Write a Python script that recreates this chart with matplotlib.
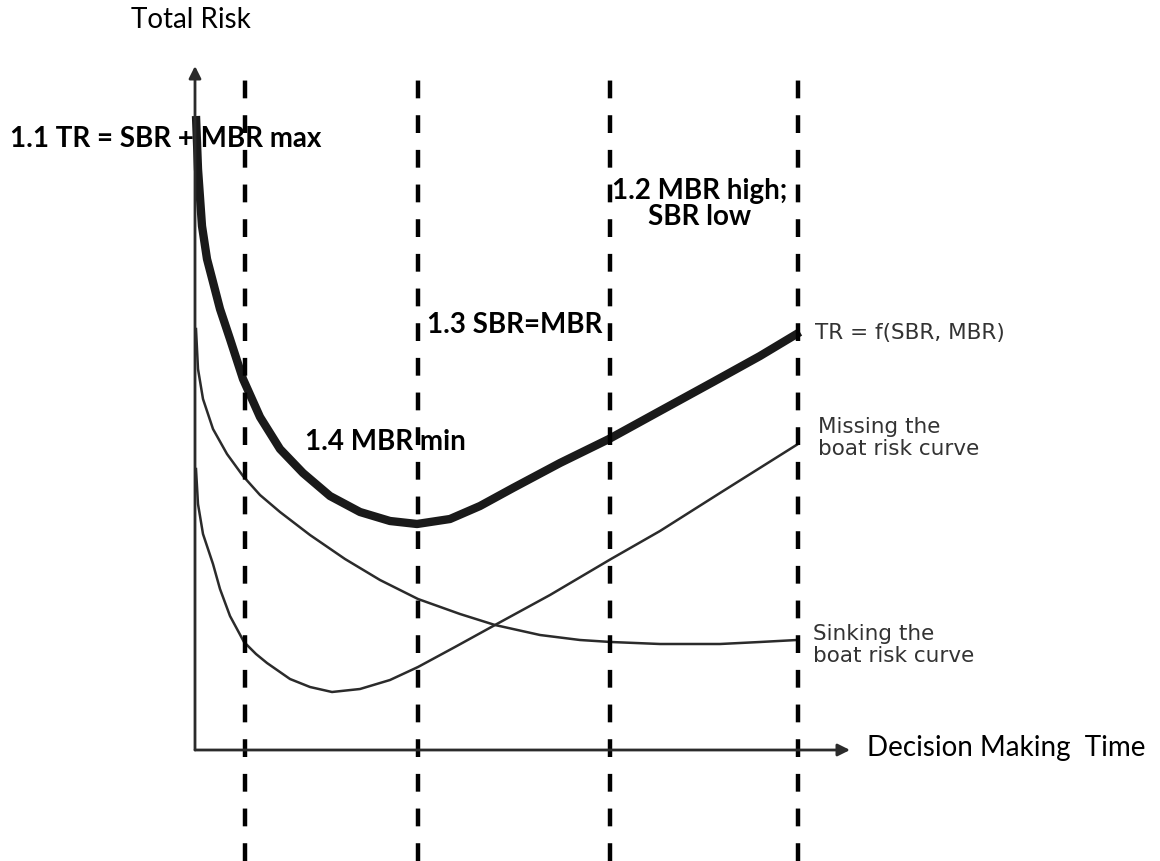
import numpy as np
import matplotlib.pyplot as plt

# data: t = decision making time, r = risk (arbitrary units)
tr_t = [1, 3, 7, 12, 18, 25, 35, 48, 65, 85, 108, 135, 165, 195, 222, 255, 285, 318, 365, 414, 465, 518, 565, 605]
tr_r = [634, 581, 524, 491, 468, 441, 411, 371, 333, 301, 277, 254, 238, 229, 226, 231, 244, 262, 287, 311, 339, 368, 394, 418]

sbr_t = [1, 3, 8, 18, 32, 48, 65, 85, 115, 150, 185, 223, 265, 300, 345, 385, 416, 465, 525, 565, 602]
sbr_r = [421, 381, 351, 321, 296, 274, 255, 238, 215, 191, 170, 151, 136, 125, 115, 110, 108, 106, 106, 108, 110]

mbr_t = [1, 3, 8, 18, 25, 35, 49, 61, 72, 95, 115, 137, 165, 195, 223, 260, 300, 355, 416, 465, 525, 603]
mbr_r = [281, 246, 216, 186, 161, 134, 108, 96, 87, 71, 63, 58, 61, 70, 83, 103, 125, 155, 191, 219, 257, 306]

phase_t = [50, 223, 415, 603]   # dashed phase boundaries

plt.rcParams['font.family'] = ['Lato', 'DejaVu Sans']

fig = plt.figure(figsize=(11.6, 8.62), dpi=100)
ax = fig.add_axes([0, 0, 1, 1])
ax.set_xlim(-195, 965)
ax.set_ylim(-111, 751)
ax.axis('off')

ink = '#2b2b2b'

# axes with arrows
ax.annotate('', xy=(0, 684), xytext=(0, 0),
            arrowprops=dict(arrowstyle='-|>', lw=2, color=ink, mutation_scale=18, shrinkA=0, shrinkB=0))
ax.annotate('', xy=(655, 0), xytext=(0, 0),
            arrowprops=dict(arrowstyle='-|>', lw=2, color=ink, mutation_scale=18, shrinkA=0, shrinkB=0))

# curves
ax.plot(tr_t, tr_r, color='#1a1a1a', lw=6, solid_capstyle='butt', solid_joinstyle='round')
ax.plot(sbr_t, sbr_r, color=ink, lw=1.8, solid_joinstyle='round')
ax.plot(mbr_t, mbr_r, color=ink, lw=1.8, solid_joinstyle='round')

# phase boundaries
ax.vlines(phase_t, -111, 681, colors='black', lw=3.2, linestyles=(0, (4, 3.8)))

# phase labels
bold = dict(fontsize=20, fontweight='bold', ha='left', va='baseline')
ax.text(-185, 604, '1.1 TR = SBR + MBR max', **bold)
ax.text(505, 547, '1.2 MBR high;\nSBR low', fontsize=20, fontweight='bold', va='center', ha='center',
        multialignment='center', linespacing=1.0)
ax.text(232, 418, '1.3 SBR=MBR', **bold)
ax.text(110, 301, '1.4 MBR min', **bold)

# curve labels
lab = dict(fontsize=15.5, color='#333333', va='center', ha='left', family=['DejaVu Sans'])
ax.text(620, 418, 'TR = f(SBR, MBR)', **lab)
ax.text(623, 313, 'Missing the\nboat risk curve', linespacing=1.15, **lab)
ax.text(618, 106, 'Sinking the\nboat risk curve', linespacing=1.15, **lab)

# axis titles
ax.text(-4, 731, 'Total Risk', fontsize=20, va='center', ha='center')
ax.text(672, 3, 'Decision Making  Time', fontsize=20, va='center', ha='left')

fig.savefig('out.png', dpi=100)
